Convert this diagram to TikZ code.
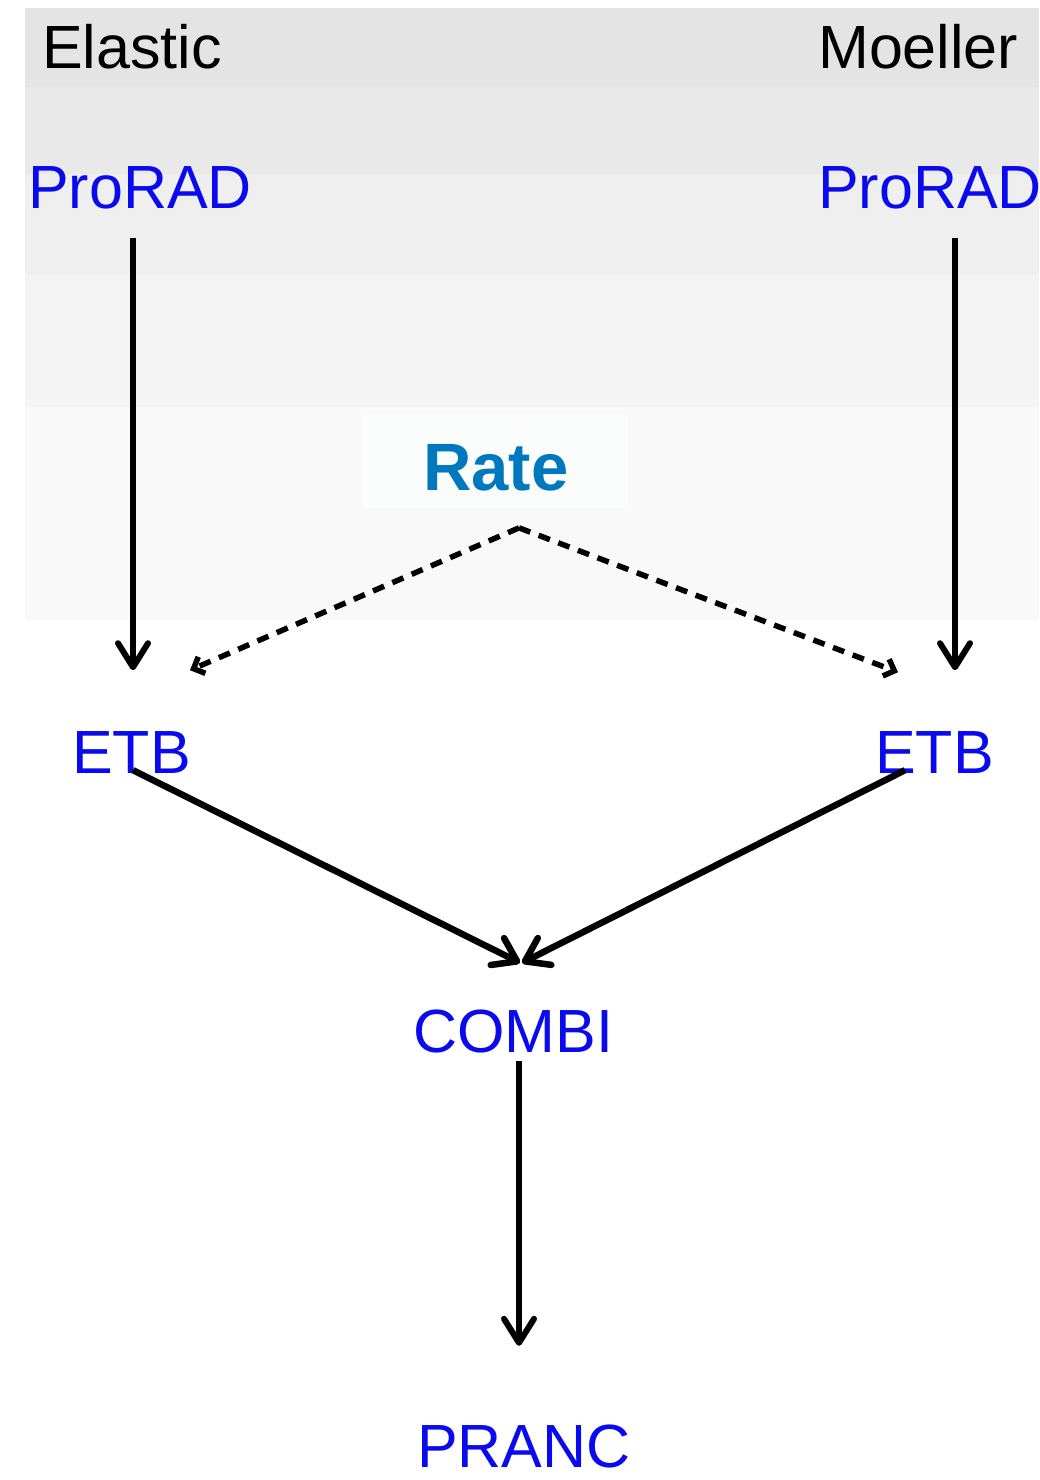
\documentclass[tikz,border=0pt]{standalone}
\usepackage{fontspec}
\setmainfont{Liberation Sans}
\usetikzlibrary{arrows.meta,calc}
\definecolor{bandA}{HTML}{E4E4E4}
\definecolor{bandB}{HTML}{E9E9E9}
\definecolor{bandC}{HTML}{EFEFEF}
\definecolor{bandD}{HTML}{F4F4F4}
\definecolor{bandE}{HTML}{F9F9F9}
\definecolor{ratebox}{HTML}{FBFCFC}
\definecolor{modblue}{HTML}{0A0AEE}
\definecolor{rateblue}{HTML}{0078BE}
\begin{document}
\begin{tikzpicture}[x=1pt,y=-1pt,
  lbl/.style={anchor=base west, inner sep=0pt, font=\fontsize{61}{61}\selectfont},
  head/.style={lbl, text=black},
  mod/.style={lbl, text=modblue},
  flow/.style={line width=6pt, -{Straight Barb[length=24pt,width=30pt,round]}},
  merge/.style={line width=6.5pt, -{Straight Barb[length=22pt,width=30pt,round]}},
  feed/.style={line width=5.5pt, dash pattern=on 12pt off 9pt, -{Straight Barb[length=9pt,width=18pt]}}]
\useasboundingbox (0,0) rectangle (1039,1480);
% shaded bands behind the upper part
\fill[bandA] (25,8) rectangle (1039,87);
\fill[bandB] (25,87) rectangle (1039,174);
\fill[bandC] (25,174) rectangle (1039,275);
\fill[bandD] (25,275) rectangle (1039,407);
\fill[bandE] (25,407) rectangle (1039,620);
\fill[ratebox] (362,415) rectangle (628,508);
% column headings
\node[head] (elastic) at (42,68) {Elastic};
\node[head] (moeller) at (818,68) {Moeller};
% modules
\node[mod] (proL) at (28,208) {ProRAD};
\node[mod] (proR) at (818,208) {ProRAD};
\node[lbl, text=rateblue, font=\fontsize{67}{67}\selectfont\bfseries] (rate) at (423,490) {Rate};
\node[mod] (etbL) at (72,773) {ETB};
\node[mod] (etbR) at (875,773) {ETB};
\node[mod] (combi) at (413,1052) {COMBI};
\node[mod] (pranc) at (417,1467) {PRANC};
% connectors
\draw[flow] ([shift={(105,29)}]proL.south west) -- ([shift={(61,-103)}]etbL.south west);
\draw[flow] ([shift={(137,29)}]proR.south west) -- ([shift={(80,-103)}]etbR.south west);
\draw[feed] ([shift={(96,37)}]rate.south west) -- ([shift={(118,-103)}]etbL.south west);
\draw[feed] ([shift={(96,37)}]rate.south west) -- ([shift={(23,-101)}]etbR.south west);
\draw[merge] ([shift={(61,-3)}]etbL.south west) -- ([shift={(107,-90)}]combi.south west);
\draw[merge] ([shift={(30,-3)}]etbR.south west) -- ([shift={(109,-90)}]combi.south west);
\draw[flow] ([shift={(106,8)}]combi.south west) -- ([shift={(102,-122)}]pranc.south west);
\end{tikzpicture}
\end{document}
